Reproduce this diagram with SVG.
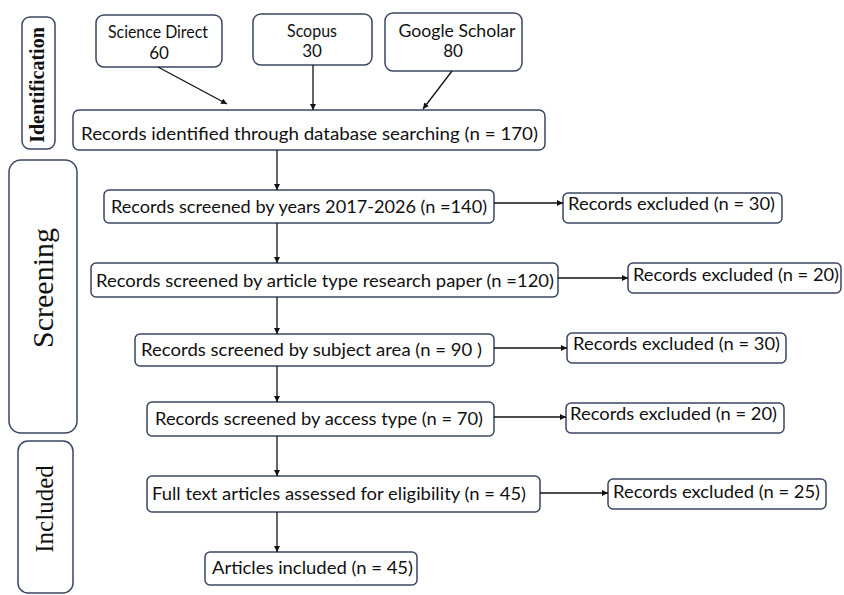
<svg xmlns="http://www.w3.org/2000/svg" width="844" height="595" viewBox="0 0 844 595">
<defs>
<marker id="ah" viewBox="0 0 10 10" refX="10" refY="5" markerWidth="6" markerHeight="6" markerUnits="userSpaceOnUse" orient="auto">
<path d="M0,0 L10,5 L0,10 z" fill="#111"/>
</marker>
<style>
.box{fill:#fff;stroke:#3a4660;stroke-width:1.5}
.t{font-family:Lato,"Open Sans","Liberation Sans",sans-serif;font-size:18px;fill:#111}
.s{font-size:17px}
.lab{font-family:"Liberation Serif","Times New Roman",serif;fill:#111}
.c{stroke:#111;stroke-width:1.3;fill:none;marker-end:url(#ah)}
</style>
</defs>
<rect width="844" height="595" fill="#fff"/>

<g id="phase-identification">
<rect class="box" x="22" y="17" width="33" height="132" rx="8"/>
<text class="lab" font-size="20" font-weight="bold" text-anchor="middle" transform="translate(44,85) rotate(-90)">Identification</text>
</g>
<g id="phase-screening">
<rect class="box" x="9" y="160" width="68" height="273" rx="12"/>
<text class="lab" font-size="30" text-anchor="middle" transform="translate(53,288) rotate(-90)">Screening</text>
</g>
<g id="phase-included">
<rect class="box" x="18" y="441" width="55" height="152" rx="10"/>
<text class="lab" font-size="25" text-anchor="middle" transform="translate(53,509) rotate(-90)">Included</text>
</g>

<g id="science-direct">
<rect class="box" x="96" y="15" width="126" height="52" rx="8"/>
<text class="t s" x="158" y="38" text-anchor="middle" textLength="100" lengthAdjust="spacingAndGlyphs">Science Direct</text>
<text class="t s" x="159" y="59" text-anchor="middle">60</text>
</g>
<g id="scopus">
<rect class="box" x="253" y="14" width="119" height="51" rx="8"/>
<text class="t s" x="312" y="37" text-anchor="middle" textLength="50" lengthAdjust="spacingAndGlyphs">Scopus</text>
<text class="t s" x="312" y="57" text-anchor="middle">30</text>
</g>
<g id="google-scholar">
<rect class="box" x="385" y="13" width="137" height="58" rx="8"/>
<text class="t s" x="457" y="37" text-anchor="middle" textLength="117" lengthAdjust="spacingAndGlyphs">Google Scholar</text>
<text class="t s" x="453" y="57" text-anchor="middle">80</text>
</g>
<g id="identified">
<rect class="box" x="73" y="110" width="472" height="40" rx="6"/>
<text class="t" x="81" y="140" textLength="457" lengthAdjust="spacingAndGlyphs">Records identified through database searching (n = 170)</text>
</g>
<g id="screened-years">
<rect class="box" x="104" y="190" width="390" height="33" rx="5"/>
<text class="t" x="111" y="213" textLength="376" lengthAdjust="spacingAndGlyphs">Records screened by years 2017-2026 (n =140)</text>
</g>
<g id="excluded-1">
<rect class="box" x="563" y="193" width="219" height="30" rx="5"/>
<text class="t" x="568" y="210" textLength="207" lengthAdjust="spacingAndGlyphs">Records excluded (n = 30)</text>
</g>
<g id="screened-article-type">
<rect class="box" x="91" y="263" width="467" height="34" rx="5"/>
<text class="t" x="96" y="287" textLength="458" lengthAdjust="spacingAndGlyphs">Records screened by article type research paper (n =120)</text>
</g>
<g id="excluded-2">
<rect class="box" x="628" y="263" width="213" height="30" rx="5"/>
<text class="t" x="633" y="281" textLength="206" lengthAdjust="spacingAndGlyphs">Records excluded (n = 20)</text>
</g>
<g id="screened-subject">
<rect class="box" x="135" y="334" width="359" height="32" rx="5"/>
<text class="t" x="141" y="356" textLength="341" lengthAdjust="spacingAndGlyphs">Records screened by subject area (n = 90 )</text>
</g>
<g id="excluded-3">
<rect class="box" x="567" y="333" width="219" height="30" rx="5"/>
<text class="t" x="573" y="350" textLength="207" lengthAdjust="spacingAndGlyphs">Records excluded (n = 30)</text>
</g>
<g id="screened-access">
<rect class="box" x="147" y="402" width="347" height="34" rx="5"/>
<text class="t" x="155" y="425" textLength="328" lengthAdjust="spacingAndGlyphs">Records screened by access type (n = 70)</text>
</g>
<g id="excluded-4">
<rect class="box" x="566" y="403" width="218" height="30" rx="5"/>
<text class="t" x="570" y="420" textLength="207" lengthAdjust="spacingAndGlyphs">Records excluded (n = 20)</text>
</g>
<g id="full-text">
<rect class="box" x="147" y="476" width="393" height="36" rx="5"/>
<text class="t" x="152" y="500" textLength="374" lengthAdjust="spacingAndGlyphs">Full text articles assessed for eligibility (n = 45)</text>
</g>
<g id="excluded-5">
<rect class="box" x="608" y="479" width="218" height="30" rx="5"/>
<text class="t" x="613" y="498" textLength="207" lengthAdjust="spacingAndGlyphs">Records excluded (n = 25)</text>
</g>
<g id="articles-included">
<rect class="box" x="205" y="552" width="212" height="33" rx="5"/>
<text class="t" x="212" y="574" textLength="201" lengthAdjust="spacingAndGlyphs">Articles included (n = 45)</text>
</g>

<g id="connectors">
<line class="c" x1="158" y1="67" x2="227" y2="104"/>
<line class="c" x1="313" y1="65" x2="313" y2="110"/>
<line class="c" x1="452" y1="71" x2="423" y2="109"/>
<line class="c" x1="277" y1="150" x2="277" y2="190"/>
<line class="c" x1="277" y1="223" x2="277" y2="263"/>
<line class="c" x1="277" y1="297" x2="277" y2="334"/>
<line class="c" x1="277" y1="366" x2="277" y2="402"/>
<line class="c" x1="277" y1="436" x2="277" y2="476"/>
<line class="c" x1="277" y1="512" x2="277" y2="552"/>
<line class="c" x1="494" y1="203" x2="563" y2="203"/>
<line class="c" x1="558" y1="278" x2="628" y2="278"/>
<line class="c" x1="494" y1="348" x2="567" y2="348"/>
<line class="c" x1="494" y1="417" x2="566" y2="417"/>
<line class="c" x1="540" y1="493" x2="608" y2="493"/>
</g>
</svg>
